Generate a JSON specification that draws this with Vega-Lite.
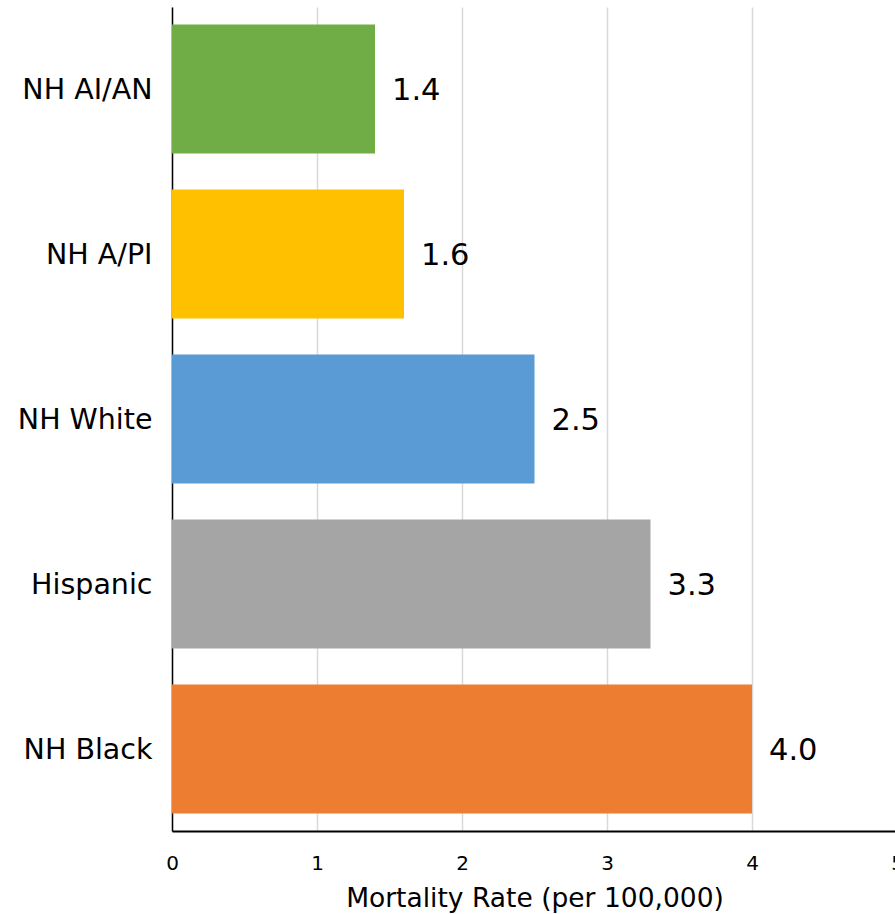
{
  "$schema": "https://vega.github.io/schema/vega-lite/v6.json",
  "autosize": {"type": "none"},
  "width": 725,
  "height": 824,
  "padding": {"left": 172, "top": 7, "right": 0, "bottom": 83},
  "background": "white",
  "config": {
    "view": {"stroke": null},
    "font": "DejaVu Sans"
  },
  "data": {
    "values": [
      {"group": "NH AI/AN", "rate": 1.4, "label": "1.4"},
      {"group": "NH A/PI", "rate": 1.6, "label": "1.6"},
      {"group": "NH White", "rate": 2.5, "label": "2.5"},
      {"group": "Hispanic", "rate": 3.3, "label": "3.3"},
      {"group": "NH Black", "rate": 4.0, "label": "4.0"}
    ]
  },
  "encoding": {
    "y": {
      "field": "group",
      "type": "nominal",
      "sort": ["NH AI/AN", "NH A/PI", "NH White", "Hispanic", "NH Black"],
      "scale": {"paddingInner": 0.218, "paddingOuter": 0.106},
      "axis": {
        "title": null,
        "domainColor": "black",
        "domainWidth": 1.5,
        "ticks": false,
        "labelFont": "DejaVu Sans",
        "labelFontSize": 28.5,
        "labelColor": "black",
        "labelPadding": 20,
        "labelOffset": 1
      }
    },
    "x": {
      "field": "rate",
      "type": "quantitative",
      "scale": {"domain": [0, 5], "nice": false},
      "axis": {
        "title": "Mortality Rate (per 100,000)",
        "titleFont": "DejaVu Sans",
        "titleFontSize": 26.5,
        "titleFontWeight": "normal",
        "titleColor": "black",
        "titlePadding": 12,
        "values": [0, 1, 2, 3, 4, 5],
        "format": "d",
        "domainColor": "black",
        "domainWidth": 2,
        "ticks": false,
        "grid": true,
        "gridColor": "#d9d9d9",
        "gridWidth": 1.5,
        "labelFont": "DejaVu Sans",
        "labelFontSize": 20,
        "labelColor": "black",
        "labelPadding": 22,
        "labelFlush": false,
        "labelOverlap": false
      }
    }
  },
  "layer": [
    {
      "mark": {"type": "bar"},
      "encoding": {
        "color": {
          "field": "group",
          "type": "nominal",
          "scale": {
            "domain": ["NH AI/AN", "NH A/PI", "NH White", "Hispanic", "NH Black"],
            "range": ["#70ad47", "#ffc000", "#5b9bd5", "#a5a5a5", "#ed7d31"]
          },
          "legend": null
        }
      }
    },
    {
      "mark": {
        "type": "text",
        "align": "left",
        "baseline": "middle",
        "dx": 17,
        "dy": 2,
        "fontSize": 30.5,
        "font": "DejaVu Sans",
        "color": "black"
      },
      "encoding": {
        "text": {"field": "label"}
      }
    }
  ]
}
